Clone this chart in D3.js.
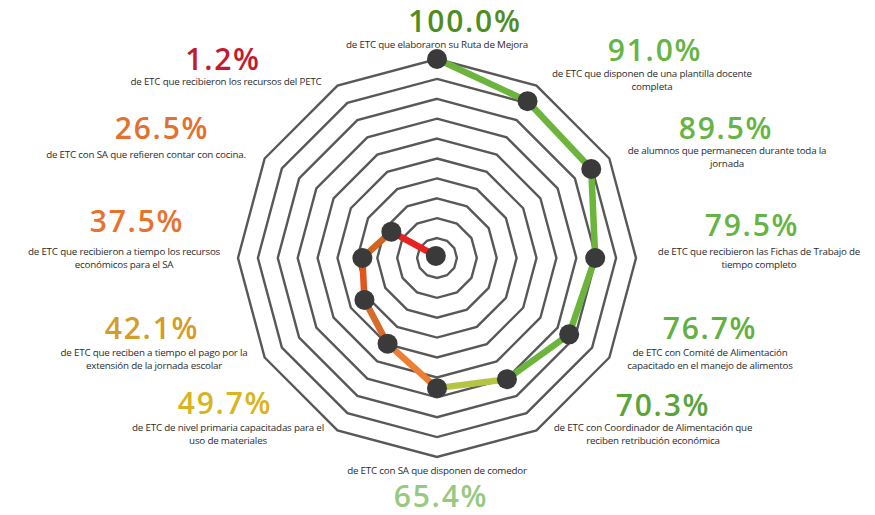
<!DOCTYPE html>
<html>
<head>
<meta charset="utf-8">
<script src="https://cdn.jsdelivr.net/npm/d3@7"></script>
<style>
  body { margin: 0; background: #fff; }
  svg { display: block; }
</style>
</head>
<body>
<script>
// radar de indicadores ETC
var w = 875;
var h = 515;
var cx = 437, cy = 258, R = 199;

// datos (en sentido horario desde arriba)
var values = [100.0, 91.0, 89.5, 79.5, 76.7, 70.3, 65.4, 49.7, 42.1, 37.5, 26.5, 1.2];
var pctLabels = ["100.0%", "91.0%", "89.5%", "79.5%", "76.7%", "70.3%", "65.4%", "49.7%", "42.1%", "37.5%", "26.5%", "1.2%"];
var descriptions = [
  ["de ETC que elaboraron su Ruta de Mejora"],
  ["de ETC que disponen de una plantilla docente", "completa"],
  ["de alumnos que permanecen durante toda la", "jornada"],
  ["de ETC que recibieron las Fichas de Trabajo de", "tiempo completo"],
  ["de ETC con Comité de Alimentación", "capacitado en el manejo de alimentos"],
  ["de ETC con Coordinador de Alimentación que", "reciben retribución económica"],
  ["de ETC con SA que disponen de comedor"],
  ["de ETC de nivel primaria capacitadas para el", "uso de materiales"],
  ["de ETC que reciben a tiempo el pago por la", "extensión de la jornada escolar"],
  ["de ETC que recibieron a tiempo los recursos", "económicos para el SA"],
  ["de ETC con SA que refieren contar con cocina."],
  ["de ETC que recibieron los recursos del PETC"]
];
var ringTicks = [10, 20, 30, 40, 50, 60, 70, 80, 90, 100];

// colores
var pctColors = ["#4f8c22", "#66b443", "#66b443", "#66b443", "#62b040", "#5ba43a", "#97ca80",
                 "#d8b420", "#d49c28", "#e8722c", "#e2702e", "#c41a2e"];
var segColors = ["#6cb43c", "#6cb43c", "#6cb43c", "#6cb43c", "#6cb43c", "#b6c444",
                 "#ee7e32", "#d86a2a", "#e0561e", "#d0661e", "#e8221e"];

// ubicacion de etiquetas: [x %, y base %, x desc, y base desc]
var labelPos = [
  [465, 32, 437, 48],
  [655, 61, 652, 77],
  [726, 139, 727, 154],
  [752, 236, 759, 255],
  [710, 339, 710, 356],
  [663, 416, 653, 431],
  [441, 507, 437, 474],
  [225, 414, 228, 431],
  [152, 339, 154, 356],
  [137, 232, 124, 255],
  [162, 139, 146, 158],
  [223, 70, 226, 85]
];

var n = values.length;
var step = 2 * Math.PI / n;
var rScale = d3.scaleLinear().domain([0, 100]).range([0, R]);

var svg = d3.select("body").append("svg")
  .attr("width", w)
  .attr("height", h);

var defs = svg.append("defs");
defs.append("filter").attr("id", "soft")
  .append("feGaussianBlur").attr("stdDeviation", 0.45);

var g = svg.append("g").attr("transform", "translate(" + cx + "," + cy + ")");

// anillos de la rejilla
var ringLine = d3.lineRadial()
  .angle(function(d, i) { return i * step; })
  .radius(function(d) { return rScale(d); })
  .curve(d3.curveLinearClosed);

g.selectAll("path.ring")
  .data(ringTicks)
  .enter()
  .append("path")
  .attr("class", "ring")
  .attr("d", function(t) { return ringLine(d3.range(n).map(function() { return t; })); })
  .attr("fill", "none")
  .attr("stroke", "#585858")
  .attr("stroke-width", 2.4)
  .attr("filter", "url(#soft)");

// puntos de datos
var pts = values.map(function(v, i) { return d3.pointRadial(i * step, rScale(v)); });

// segmentos (abierto, sin cerrar de 1.2% a 100%)
g.selectAll("line.seg")
  .data(d3.range(n - 1))
  .enter()
  .append("line")
  .attr("class", "seg")
  .attr("x1", function(i) { return pts[i][0]; })
  .attr("y1", function(i) { return pts[i][1]; })
  .attr("x2", function(i) { return pts[i + 1][0]; })
  .attr("y2", function(i) { return pts[i + 1][1]; })
  .attr("stroke", function(i) { return segColors[i]; })
  .attr("stroke-width", 6.5)
  .attr("stroke-linecap", "round");

g.selectAll("circle")
  .data(pts)
  .enter()
  .append("circle")
  .attr("cx", function(d) { return d[0]; })
  .attr("cy", function(d) { return d[1]; })
  .attr("r", 10)
  .attr("fill", "#3a3a3a");

// etiquetas
var lab = svg.selectAll("g.lab")
  .data(d3.range(n))
  .enter()
  .append("g")
  .attr("class", "lab");

lab.append("text")
  .text(function(i) { return pctLabels[i]; })
  .attr("x", function(i) { return labelPos[i][0]; })
  .attr("y", function(i) { return labelPos[i][1]; })
  .attr("text-anchor", "middle")
  .attr("font-family", "'Open Sans', sans-serif")
  .attr("font-size", 30)
  .attr("font-weight", 600)
  .attr("letter-spacing", 1.8)
  .attr("fill", function(i) { return pctColors[i]; });

lab.each(function(i) {
  var sel = d3.select(this);
  descriptions[i].forEach(function(line, k) {
    sel.append("text")
      .text(line)
      .attr("x", labelPos[i][2])
      .attr("y", labelPos[i][3] + k * 12.5)
      .attr("text-anchor", "middle")
      .attr("font-family", "'Open Sans', sans-serif")
      .attr("font-size", 9.8)
      .attr("letter-spacing", -0.2)
      .attr("fill", "#2b2b2b");
  });
});
</script>
</body>
</html>
